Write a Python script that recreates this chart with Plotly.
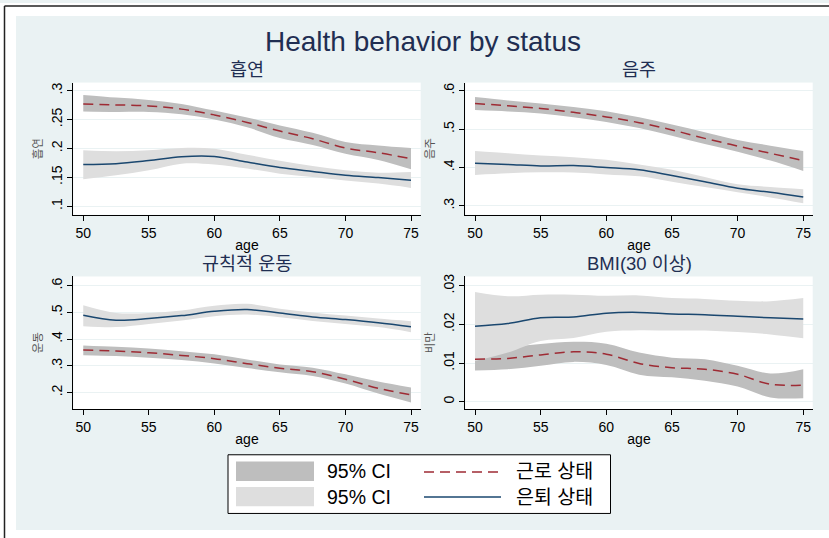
import plotly.graph_objects as go

W, H = 829, 538
FONT = "Liberation Sans, Arial, Noto Sans CJK KR, sans-serif"
KFONT = "Noto Sans CJK KR, Liberation Sans, sans-serif"

# ---------------- data ----------------
ages = [50, 52.5, 55, 57.5, 60, 62.5, 65, 67.5, 70, 72.5, 75]
x_ticks = [50, 55, 60, 65, 70, 75]
x_ticktext = ["50", "55", "60", "65", "70", "75"]

series_names = ["근로 상태", "은퇴 상태"]
ci_name = "95% CI"
panel_titles = ["흡연", "음주", "규칙적 운동", "BMI(30 이상)"]
y_titles = ["흡연", "음주", "운동", "비만"]
main_title = "Health behavior by status"
x_title = "age"

# 흡연 (smoking)
smk_work = [0.277, 0.2753, 0.2736, 0.268, 0.258, 0.245, 0.230, 0.2167, 0.2006, 0.1925, 0.182]
smk_work_hi = [0.2925, 0.288, 0.284, 0.277, 0.2655, 0.2535, 0.2397, 0.227, 0.211, 0.205, 0.2006]
smk_work_lo = [0.2638, 0.263, 0.263, 0.259, 0.250, 0.2365, 0.218, 0.206, 0.1908, 0.180, 0.1638]
smk_ret = [0.172, 0.1736, 0.179, 0.1856, 0.186, 0.1764, 0.167, 0.160, 0.1534, 0.1494, 0.1448]
smk_ret_hi = [0.1966, 0.195, 0.1966, 0.2006, 0.1994, 0.189, 0.1787, 0.1695, 0.162, 0.158, 0.1592]
smk_ret_lo = [0.1466, 0.1534, 0.162, 0.1736, 0.172, 0.165, 0.1563, 0.1506, 0.1443, 0.139, 0.1316]
smk_yticks = [0.1, 0.15, 0.2, 0.25, 0.3]
smk_yticktext = [".1", ".15", ".2", ".25", ".3"]

# 음주 (drinking)
drk_work = [0.567, 0.561, 0.554, 0.544, 0.532, 0.517, 0.498, 0.476, 0.456, 0.437, 0.418]
drk_work_hi = [0.584, 0.575, 0.567, 0.558, 0.547, 0.531, 0.512, 0.492, 0.472, 0.457, 0.443]
drk_work_lo = [0.5497, 0.546, 0.541, 0.531, 0.519, 0.503, 0.483, 0.461, 0.441, 0.418, 0.391]
drk_ret = [0.411, 0.408, 0.404, 0.405, 0.400, 0.394, 0.379, 0.363, 0.346, 0.3355, 0.323]
drk_ret_hi = [0.443, 0.437, 0.431, 0.427, 0.420, 0.408, 0.394, 0.375, 0.356, 0.349, 0.343]
drk_ret_lo = [0.3806, 0.385, 0.3875, 0.387, 0.382, 0.377, 0.363, 0.349, 0.3355, 0.322, 0.307]
drk_yticks = [0.3, 0.4, 0.5, 0.6]
drk_yticktext = [".3", ".4", ".5", ".6"]

# 규칙적 운동 (exercise)
ex_work = [0.359, 0.3553, 0.349, 0.339, 0.3267, 0.308, 0.291, 0.278, 0.2497, 0.216, 0.1913]
ex_work_hi = [0.376, 0.371, 0.365, 0.355, 0.343, 0.324, 0.305, 0.293, 0.268, 0.241, 0.2186]
ex_work_lo = [0.340, 0.337, 0.330, 0.322, 0.309, 0.292, 0.2758, 0.262, 0.2335, 0.196, 0.1627]
ex_ret = [0.4894, 0.471, 0.477, 0.488, 0.504, 0.5106, 0.498, 0.483, 0.473, 0.461, 0.446]
ex_ret_hi = [0.5267, 0.498, 0.498, 0.507, 0.525, 0.532, 0.514, 0.500, 0.488, 0.477, 0.467]
ex_ret_lo = [0.4484, 0.445, 0.457, 0.470, 0.486, 0.492, 0.482, 0.468, 0.457, 0.445, 0.426]
ex_yticks = [0.2, 0.3, 0.4, 0.5, 0.6]
ex_yticktext = [".2", ".3", ".4", ".5", ".6"]

# BMI(30 이상) (obesity)
bmi_work = [0.0110, 0.0112, 0.0121, 0.0129, 0.0123, 0.0099, 0.0088, 0.0084, 0.0071, 0.0045, 0.0043]
bmi_work_hi = [0.0138, 0.0141, 0.0149, 0.0155, 0.0150, 0.0127, 0.0114, 0.0110, 0.0093, 0.0073, 0.0084]
bmi_work_lo = [0.0081, 0.0084, 0.0093, 0.0103, 0.0095, 0.0070, 0.0063, 0.0054, 0.0039, 0.0011, 0.0009]
bmi_ret = [0.01955, 0.0202, 0.0217, 0.0219, 0.0229, 0.0231, 0.0227, 0.0225, 0.0221, 0.0217, 0.0214]
bmi_ret_hi = [0.0284, 0.0273, 0.0277, 0.0277, 0.0274, 0.0275, 0.0268, 0.0266, 0.0261, 0.0260, 0.0268]
bmi_ret_lo = [0.0105, 0.0127, 0.0157, 0.0165, 0.0181, 0.0185, 0.0184, 0.0184, 0.0180, 0.0174, 0.0164]
bmi_yticks = [0, 0.01, 0.02, 0.03]
bmi_yticktext = ["0", ".01", ".02", ".03"]

# ---------------- style / layout ----------------
BG = "#EAF2F3"
TITLE_C = "#1F2E52"
RED = "#9E2B34"
NAVY = "#1A476F"
DARK_CI = "#BEBEBE"
LIGHT_CI = "#DEDEDE"
DASH = "10px,6px"


def fx(p):
    return p / W


def fy(p):
    return 1 - p / H


# pixel boxes of plot areas: (left, right, top, bottom)
boxes = [(73.3, 420.7, 80, 213), (465.3, 812.7, 80, 213),
         (73.3, 420.7, 275, 408.3), (465.3, 812.7, 275, 408.3)]
x_ranges = [[49.24, 75.74], [49.26, 75.72], [49.24, 75.74], [49.26, 75.72]]
y_ranges = [[0.085, 0.314], [0.2766, 0.6216], [0.1382, 0.6346], [-0.0019, 0.0324]]

panels = [
    (smk_work, smk_work_lo, smk_work_hi, smk_ret, smk_ret_lo, smk_ret_hi, smk_yticks, smk_yticktext),
    (drk_work, drk_work_lo, drk_work_hi, drk_ret, drk_ret_lo, drk_ret_hi, drk_yticks, drk_yticktext),
    (ex_work, ex_work_lo, ex_work_hi, ex_ret, ex_ret_lo, ex_ret_hi, ex_yticks, ex_yticktext),
    (bmi_work, bmi_work_lo, bmi_work_hi, bmi_ret, bmi_ret_lo, bmi_ret_hi, bmi_yticks, bmi_yticktext),
]

fig = go.Figure()
layout_axes = {}
annotations = []

for i, (w, wlo, whi, r, rlo, rhi, yt, ytt) in enumerate(panels):
    n = "" if i == 0 else str(i + 1)
    xa, ya = "x" + n, "y" + n
    common = dict(x=ages, xaxis=xa, yaxis=ya, mode="lines", showlegend=False,
                  hoverinfo="skip", line_shape="spline")
    # working CI (dark)
    fig.add_trace(go.Scatter(y=wlo, line=dict(width=0, color=DARK_CI), **common))
    fig.add_trace(go.Scatter(y=whi, line=dict(width=0, color=DARK_CI), fill="tonexty",
                             fillcolor=DARK_CI, **common))
    # retired CI (light)
    fig.add_trace(go.Scatter(y=rlo, line=dict(width=0, color=LIGHT_CI), **common))
    fig.add_trace(go.Scatter(y=rhi, line=dict(width=0, color=LIGHT_CI), fill="tonexty",
                             fillcolor=LIGHT_CI, **common))
    # lines
    fig.add_trace(go.Scatter(y=w, name=series_names[0],
                             line=dict(width=1.5, color=RED, dash=DASH), **common))
    fig.add_trace(go.Scatter(y=r, name=series_names[1],
                             line=dict(width=1.5, color=NAVY), **common))

    l, rr, t, b = boxes[i]
    layout_axes["xaxis" + n] = dict(
        domain=[fx(l), fx(rr)], anchor=ya, range=x_ranges[i],
        tickvals=x_ticks, ticktext=x_ticktext,
        showline=True, linecolor="black", linewidth=1, mirror=False,
        ticks="outside", ticklen=5, tickcolor="black", tickwidth=1,
        showgrid=False, zeroline=False,
        tickfont=dict(size=14, color="black", family=FONT),
        title=dict(text=x_title, font=dict(size=14, color="black", family=FONT), standoff=0),
    )
    layout_axes["yaxis" + n] = dict(
        domain=[fy(b), fy(t)], anchor=xa, range=y_ranges[i],
        tickvals=yt, ticktext=ytt, tickangle=-90,
        showline=True, linecolor="black", linewidth=1,
        ticks="outside", ticklen=5, tickcolor="black", tickwidth=1,
        showgrid=True, gridcolor=BG, gridwidth=1, zeroline=False,
        tickfont=dict(size=14, color="black", family=FONT),
        title=dict(text=y_titles[i], font=dict(size=11.5, color="#555555", family=KFONT), standoff=3),
    )
    annotations.append(dict(
        text=panel_titles[i], xref="paper", yref="paper",
        x=fx((l + rr) / 2), y=fy(t - 13.5), xanchor="center", yanchor="middle",
        showarrow=False, font=dict(size=18.5, color=TITLE_C, family=FONT)))

annotations.append(dict(
    text=main_title, xref="paper", yref="paper", x=fx(423), y=fy(39),
    xanchor="center", yanchor="middle", showarrow=False,
    font=dict(size=28, color=TITLE_C, family=FONT)))

# ---------------- frame and manual legend ----------------
shapes = []
shapes.append(dict(type="rect", xref="paper", yref="paper", x0=0, x1=fx(16), y0=0, y1=1,
                   fillcolor="white", line=dict(width=0), layer="above"))
shapes.append(dict(type="rect", xref="paper", yref="paper", x0=0, x1=1, y0=fy(13), y1=1,
                   fillcolor="white", line=dict(width=0), layer="above"))
shapes.append(dict(type="rect", xref="paper", yref="paper", x0=0, x1=1, y0=0, y1=fy(530),
                   fillcolor="white", line=dict(width=0), layer="above"))
shapes.append(dict(type="line", xref="paper", yref="paper", x0=fx(4.5), x1=fx(4.5), y0=0, y1=fy(3),
                   line=dict(color="#222222", width=1.5), layer="above"))
shapes.append(dict(type="line", xref="paper", yref="paper", x0=fx(4.5), x1=1, y0=fy(3), y1=fy(3),
                   line=dict(color="#222222", width=1.5), layer="above"))
# legend box
shapes.append(dict(type="rect", xref="paper", yref="paper", x0=fx(228), x1=fx(610.5),
                   y0=fy(513.3), y1=fy(454.3), fillcolor="white",
                   line=dict(color="black", width=1), layer="above"))
# CI swatches
shapes.append(dict(type="rect", xref="paper", yref="paper", x0=fx(236), x1=fx(314),
                   y0=fy(480.7), y1=fy(461), fillcolor=DARK_CI, line=dict(width=0), layer="above"))
shapes.append(dict(type="rect", xref="paper", yref="paper", x0=fx(236), x1=fx(314),
                   y0=fy(506), y1=fy(486.7), fillcolor=LIGHT_CI, line=dict(width=0), layer="above"))
# line keys
shapes.append(dict(type="line", xref="paper", yref="paper", x0=fx(424), x1=fx(501),
                   y0=fy(471.7), y1=fy(471.7), line=dict(color=RED, width=1.5, dash=DASH),
                   layer="above"))
shapes.append(dict(type="line", xref="paper", yref="paper", x0=fx(424), x1=fx(501),
                   y0=fy(496.7), y1=fy(496.7), line=dict(color=NAVY, width=1.5), layer="above"))

for txt, xx, yy in [(ci_name, 325, 471), (ci_name, 325, 496.5),
                    (series_names[0], 514, 471), (series_names[1], 514, 496.5)]:
    annotations.append(dict(text=txt, xref="paper", yref="paper", x=fx(xx), y=fy(yy),
                            xanchor="left", yanchor="middle", showarrow=False,
                            font=dict(size=19.5, color="black", family=FONT)))

fig.update_layout(
    width=W, height=H, margin=dict(l=0, r=0, t=0, b=0),
    paper_bgcolor=BG, plot_bgcolor="white",
    font=dict(family=FONT, color="black"),
    showlegend=False, annotations=annotations, shapes=shapes,
    **layout_axes,
)

fig.write_html("out.html", config={"displayModeBar": False},
               post_script="document.body.style.margin='0';document.body.style.overflow='hidden';")
